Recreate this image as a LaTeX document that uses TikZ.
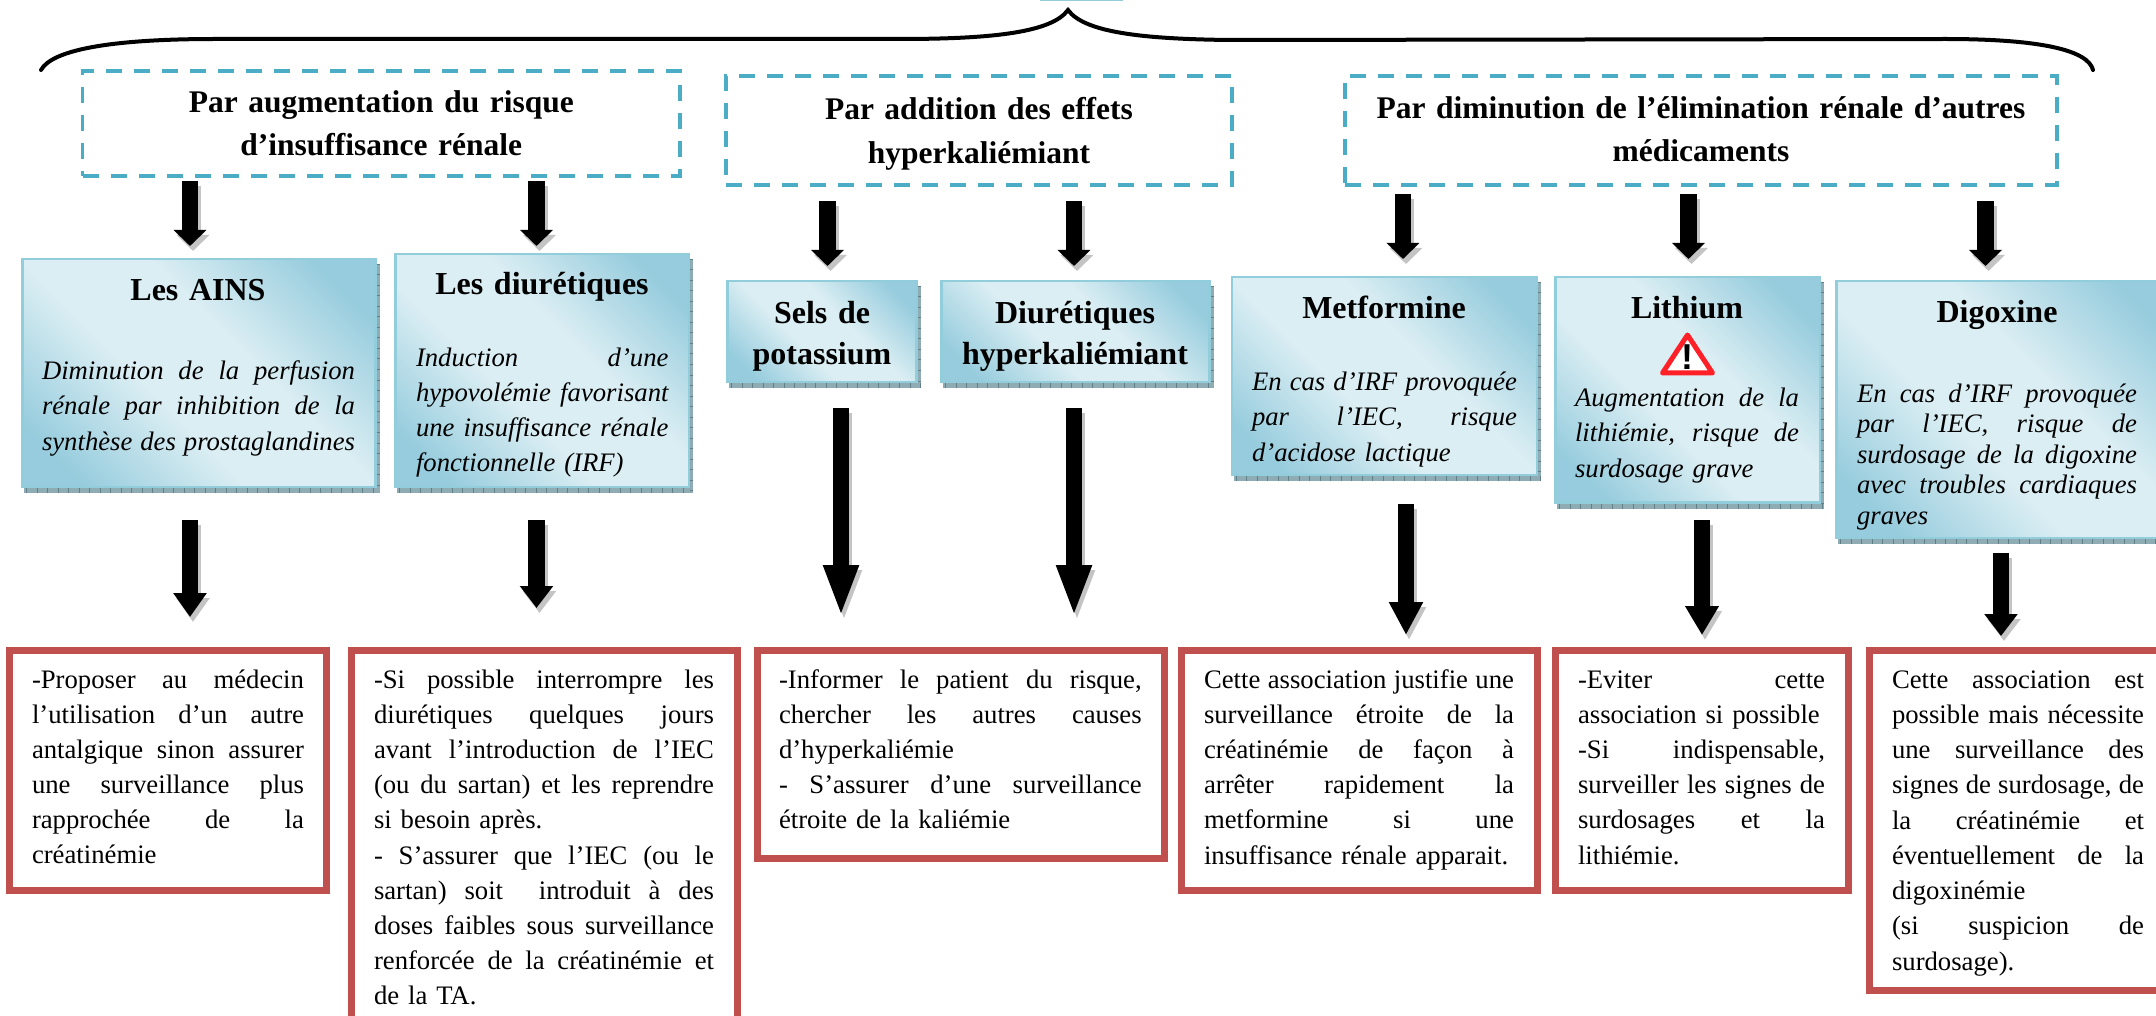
\documentclass[tikz,border=0pt]{standalone}
\usepackage{fontspec}
\setmainfont{Liberation Serif}
\newfontfamily\warnfont{Liberation Sans}
\usetikzlibrary{arrows.meta}
\definecolor{dashblue}{HTML}{4BACC6}
\definecolor{gradlight}{HTML}{DBEEF3}
\definecolor{graddark}{HTML}{96CCDD}
\definecolor{edgeblue}{HTML}{92CDDC}
\definecolor{hatchbase}{HTML}{8FABB3}
\definecolor{hatchtick}{HTML}{5F7F89}
\definecolor{redbox}{HTML}{C0504D}
\definecolor{arrowshade}{HTML}{C4C4C4}
\definecolor{warnred}{HTML}{FF2028}
\pgfdeclareverticalshading{cardshade}{100bp}{color(0bp)=(graddark); color(22bp)=(graddark); color(42bp)=(gradlight); color(58bp)=(gradlight); color(78bp)=(graddark); color(100bp)=(graddark)}
\tikzset{
  headbox/.style={draw=dashblue,line width=3.5pt,dash pattern=on 16pt off 12pt,inner sep=0pt,outer sep=0pt},
  bluebox/.style={draw=edgeblue,line width=2.5pt,shading=cardshade,shading angle=-45,inner sep=0pt,outer sep=0pt},
  blueshadow/.style={fill=hatchbase,inner sep=0pt,outer sep=0pt},
  redframe/.style={draw=redbox,line width=7pt,fill=white,inner sep=0pt,outer sep=0pt},
  headtext/.style={font=\fontsize{31.5}{43}\selectfont\bfseries},
  boldtext/.style={font=\fontsize{32}{43}\selectfont\bfseries},
  bodytext/.style={font=\fontsize{26.7}{35}\selectfont},
  slanttext/.style={font=\fontsize{26.7}{35}\selectfont\itshape},
  bracepath/.style={draw=black,line width=4pt,line cap=round},
}
% justified, plain and centred lines
\newcommand\jl[1]{\hbox to \hsize{\spaceskip=.25em plus 1fil minus .08em\relax #1}}
\newcommand\pl[1]{\hbox to \hsize{#1\hfil}}
\newcommand\cl[1]{\hbox to \hsize{\hfil #1\hfil}}
% name, style, x, first baseline, line skip, width, lines
\newcommand\txt[7]{\node[#2,text width=#6pt,inner sep=0pt,outer sep=0pt,anchor=north west] (#1) at (#3,{#4-#5}) {\vbox{\hsize=#6pt\baselineskip=#5pt\relax\hbox{}#7}};}
% name, style, x1, y1, x2, y2
\newcommand\boxat[6]{\node[#2,minimum width={(#5-(#3))*1pt},minimum height={(#6-(#4))*1pt}] (#1) at ({(#3+#5)/2},{(#4+#6)/2}) {};}
\newcommand\bluecard[5]{%
  \boxat{#1s}{blueshadow}{#2+3}{#3+6}{#4+3}{#5+5}
  \draw[hatchtick,line width=5pt,dash pattern=on 1pt off 9.5pt] ({#2+5},{#5+2.5}) -- ({#4+3},{#5+2.5});
  \draw[hatchtick,line width=3pt,dash pattern=on 1pt off 9.5pt] ({#4+1.5},{#3+6}) -- ({#4+1.5},{#5+3});
  \boxat{#1}{bluebox}{#2+1.25}{#3+1.25}{#4-1.25}{#5-1.25}}
% name, x, y top, y tip, head length
\newcommand\blockarrow[5]{%
  \coordinate (#1a) at (#2,#3);
  \coordinate (#1b) at (#2,#4);
  \draw[arrowshade,line width=16.5pt,-{Triangle[width=32pt,length=#5pt]}] ([shift={(3pt,-5pt)}]#1a) -- ([shift={(3pt,-5pt)}]#1b);
  \draw[black,line width=16.5pt,-{Triangle[width=32pt,length=#5pt]}] (#1a) -- (#1b);}
\begin{document}
\begin{tikzpicture}[x=1pt,y=-1pt]
\clip (0,0) rectangle (2156,1016);
\fill[white] (0,0) rectangle (2156,1016);
\hbadness=10000 \hfuzz=40pt
% top strip and brace
\fill[edgeblue] (1040,0) rectangle (1123,1.2);
\path[bracepath] (41,70) .. controls (52,50) and (110,39) .. (215,39) -- (900,39) .. controls (995,39) and (1052,32) .. (1068,10) .. controls (1084,32) and (1140,39) .. (1230,40) -- (1945,39) .. controls (2040,39) and (2088,50) .. (2093,70);
% header boxes
\boxat{H1}{headbox}{82.6}{71}{680}{176}
\boxat{H2}{headbox}{726}{76}{1232}{185}
\boxat{H3}{headbox}{1345}{76}{2057}{185}
\txt{H1t}{headtext}{82.6}{113}{43}{597.4}{\cl{Par augmentation du risque}\cl{d’insuffisance rénale}}
\txt{H2t}{headtext}{726}{120}{44}{506}{\cl{Par addition des effets}\cl{hyperkaliémiant}}
\txt{H3t}{headtext}{1345}{119}{43}{712}{\cl{Par diminution de l’élimination rénale d’autres}\cl{médicaments}}
% cards
\bluecard{B1}{21}{258}{376.5}{488}
\bluecard{B2}{394}{253}{690}{488}
\bluecard{B3}{726}{280}{917.6}{383}
\bluecard{B4}{940}{280}{1210.7}{383}
\bluecard{B5}{1230.5}{276}{1538}{476}
\bluecard{B6}{1554}{276}{1821}{503.5}
\bluecard{B7}{1835}{280}{2180}{539}
\txt{B1t}{boldtext}{48}{301}{43}{300}{\cl{Les AINS}}
\txt{B1b}{slanttext}{42}{379}{35.5}{313}{\jl{Diminution de la perfusion}\jl{rénale par inhibition de la}\jl{synthèse des prostaglandines}}
\txt{B2t}{boldtext}{392}{295}{43}{300}{\cl{Les diurétiques}}
\txt{B2b}{slanttext}{416}{366}{35.3}{252.5}{\jl{Induction d’une}\jl{hypovolémie favorisant}\jl{une insuffisance rénale}\pl{fonctionnelle (IRF)}}
\txt{B3t}{boldtext}{672}{324}{41}{300}{\cl{Sels de}\cl{potassium}}
\txt{B4t}{boldtext}{925}{324}{41}{300}{\cl{Diurétiques}\cl{hyperkaliémiant}}
\txt{B5t}{boldtext}{1234}{319}{43}{300}{\cl{Metformine}}
\txt{B5b}{slanttext}{1252}{390}{35.5}{265}{\jl{En cas d’IRF provoquée}\jl{par l’IEC, risque}\pl{d’acidose lactique}}
\txt{B6t}{boldtext}{1537}{319}{43}{300}{\cl{Lithium}}
\txt{B6b}{slanttext}{1575}{406}{35.5}{224}{\jl{Augmentation de la}\jl{lithiémie, risque de}\pl{surdosage grave}}
\txt{B7t}{boldtext}{1847}{323}{43}{300}{\cl{Digoxine}}
\txt{B7b}{slanttext}{1857}{402}{30.5}{280}{\jl{En cas d’IRF provoquée}\jl{par l’IEC, risque de}\jl{surdosage de la digoxine}\jl{avec troubles cardiaques}\pl{graves}}
% warning sign
\path[draw=warnred,fill=white,line width=5pt,line join=round] (1687.5,335) -- (1712.5,373) -- (1662.5,373) -- cycle;
\node[font=\warnfont\fontsize{36}{36}\selectfont\bfseries,inner sep=0pt,anchor=base] (warn) at (1687.5,369.5) {!};
% outcome boxes
\boxat{R1}{redframe}{9.5}{650}{326.5}{890}
\boxat{R2}{redframe}{351.5}{650}{737}{1020}
\boxat{R3}{redframe}{757}{650}{1164.5}{858}
\boxat{R4}{redframe}{1181.5}{650}{1537.5}{890}
\boxat{R5}{redframe}{1555}{650}{1848.5}{890}
\boxat{R6}{redframe}{1869}{650}{2175}{990}
\txt{R1t}{bodytext}{32}{688}{35}{272}{\jl{-Proposer au médecin}\jl{l’utilisation d’un autre}\jl{antalgique sinon assurer}\jl{une surveillance plus}\jl{rapprochée de la}\pl{créatinémie}}
\txt{R2t}{bodytext}{374}{688}{35.2}{340}{\jl{-Si possible interrompre les}\jl{diurétiques quelques jours}\jl{avant l’introduction de l’IEC}\jl{(ou du sartan) et les reprendre}\pl{si besoin après.}\jl{- S’assurer que l’IEC (ou le}\jl{sartan) soit \ introduit à des}\jl{doses faibles sous surveillance}\jl{renforcée de la créatinémie et}\pl{de la TA.}}
\txt{R3t}{bodytext}{779}{688}{35.2}{362.7}{\jl{-Informer le patient du risque,}\jl{chercher les autres causes}\pl{d’hyperkaliémie}\jl{- S’assurer d’une surveillance}\pl{étroite de la kaliémie}}
\txt{R4t}{bodytext}{1204}{688}{35.2}{310}{\jl{Cette association justifie une}\jl{surveillance étroite de la}\jl{créatinémie de façon à}\jl{arrêter rapidement la}\jl{metformine si une}\pl{insuffisance rénale apparait.}}
\txt{R5t}{bodytext}{1578}{688}{35.2}{247}{\jl{-Eviter cette}\pl{association si possible}\jl{-Si indispensable,}\jl{surveiller les signes de}\jl{surdosages et la}\pl{lithiémie.}}
\txt{R6t}{bodytext}{1892}{688}{35.25}{252}{\jl{Cette association est}\jl{possible mais nécessite}\jl{une surveillance des}\jl{signes de surdosage, de}\jl{la créatinémie et}\jl{éventuellement de la}\pl{digoxinémie}\jl{(si suspicion de}\pl{surdosage).}}
% arrows
\blockarrow{au1}{190}{181}{246}{16}
\blockarrow{au2}{536.5}{181}{246}{16}
\blockarrow{au3}{827.5}{201}{266}{16}
\blockarrow{au4}{1074}{201}{266}{16}
\blockarrow{au5}{1403}{194}{259}{16}
\blockarrow{au6}{1688.5}{194}{259}{16}
\blockarrow{au7}{1985.5}{201}{266}{16}
\blockarrow{al1}{190}{520}{617}{24}
\blockarrow{al2}{536.5}{520}{608}{22}
\blockarrow{al3}{841}{408}{617}{52}
\blockarrow{al4}{1074}{408}{617}{52}
\blockarrow{al5}{1406}{504}{635}{33}
\blockarrow{al6}{1702}{520}{635}{29}
\blockarrow{al7}{2001}{552.5}{636}{22}
\end{tikzpicture}
\end{document}
